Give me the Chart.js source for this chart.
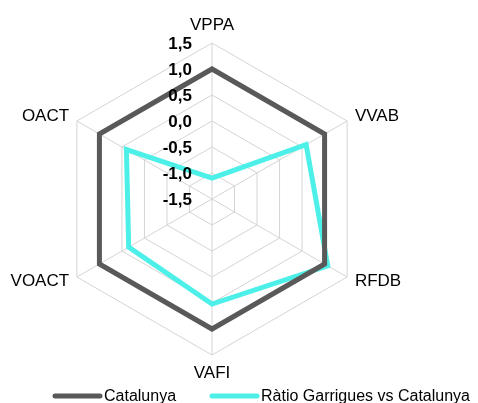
<!DOCTYPE html>
<html>
<head>
<meta charset="utf-8">
<script src="https://cdn.jsdelivr.net/npm/chart.js@4.4.1/dist/chart.umd.min.js"></script>
<style>
    html, body { margin: 0; padding: 0; background: #ffffff; }
    #wrap { width: 478px; height: 403px; position: relative; }
</style>
</head>
<body>
<div id="wrap"><canvas id="radarChart"></canvas></div>
<script>
"use strict";

const categories = ["VPPA", "VVAB", "RFDB", "VAFI", "VOACT", "OACT"];
const catalunya = [1.0, 1.0, 1.0, 1.0, 1.0, 1.0];
const garrigues = [-1.1, 0.59, 1.07, 0.52, 0.35, 0.4];
const tickValues = [-1.5, -1.0, -0.5, 0.0, 0.5, 1.0, 1.5];
const seriesNames = ["Catalunya", "Ràtio Garrigues vs Catalunya"];

const darkColor = "#595959";
const cyanColor = "#4df0e8";
const fontFamily = "'Liberation Sans', Arial, sans-serif";

// formata 0.5 -> "0,5"
function formatTick(v) {
    return v.toFixed(1).replace(".", ",");
}

// dibuixa etiquetes de l'eix, noms de categoria i llegenda com l'original
const labelsPlugin = {
    id: "radarLabels",
    afterDatasetsDraw(chart) {
        const scale = chart.scales.r;
        const ctx = chart.ctx;
        ctx.save();
        ctx.font = "bold 17px " + fontFamily;
        ctx.fillStyle = "#000000";
        ctx.textAlign = "right";
        ctx.textBaseline = "middle";
        tickValues.forEach(v => {
            const d = scale.getDistanceFromCenterForValue(v);
            ctx.fillText(formatTick(v), scale.xCenter - 20, scale.yCenter - d + 1);
        });
        ctx.restore();
    },
    afterDraw(chart) {
        const scale = chart.scales.r;
        const ctx = chart.ctx;
        ctx.save();
        ctx.font = "17px " + fontFamily;
        ctx.fillStyle = "#000000";
        ctx.textBaseline = "middle";
        categories.forEach((name, i) => {
            const vertical = (i === 0 || i === 3);
            const pos = scale.getPointPosition(i, scale.drawingArea + (vertical ? 18 : 9));
            if (vertical) ctx.textAlign = "center";
            else ctx.textAlign = pos.x > scale.xCenter ? "left" : "right";
            ctx.fillText(name, pos.x, pos.y);
        });

        // llegenda
        const legendY = 396;
        const items = [
            { x: 55, color: darkColor, label: seriesNames[0] },
            { x: 212, color: cyanColor, label: seriesNames[1] }
        ];
        ctx.font = "16px " + fontFamily;
        ctx.textAlign = "left";
        items.forEach(item => {
            ctx.strokeStyle = item.color;
            ctx.lineWidth = 5;
            ctx.lineCap = "round";
            ctx.beginPath();
            ctx.moveTo(item.x, legendY);
            ctx.lineTo(item.x + 45, legendY);
            ctx.stroke();
            ctx.fillText(item.label, item.x + 49, legendY + 1);
        });
        ctx.restore();
    }
};

new Chart(document.getElementById("radarChart"), {
    type: "radar",
    data: {
        labels: categories,
        datasets: [{
            label: seriesNames[0],
            data: catalunya,
            borderColor: darkColor,
            backgroundColor: darkColor,
            borderWidth: 5,
            borderJoinStyle: "miter",
            pointRadius: 0,
            fill: false
        }, {
            label: seriesNames[1],
            data: garrigues,
            borderColor: cyanColor,
            backgroundColor: cyanColor,
            borderWidth: 5,
            borderJoinStyle: "miter",
            pointRadius: 0,
            fill: false
        }]
    },
    options: {
        responsive: true,
        maintainAspectRatio: false,
        animation: false,
        layout: {
            padding: { top: 43, bottom: 48, left: 56, right: 109 }
        },
        plugins: {
            legend: { display: false },
            tooltip: { enabled: false }
        },
        scales: {
            r: {
                min: -1.5,
                max: 1.5,
                ticks: { stepSize: 0.5, display: false },
                pointLabels: { display: false },
                grid: { color: "#d4d4d4", lineWidth: 1 },
                angleLines: { color: "#d4d4d4", lineWidth: 1 }
            }
        }
    },
    plugins: [labelsPlugin]
});
</script>
</body>
</html>
